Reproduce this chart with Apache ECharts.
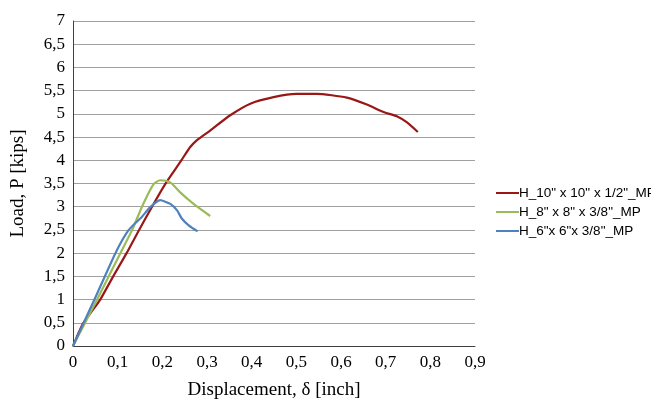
<!DOCTYPE html>
<html>
<head>
<meta charset="utf-8">
<script src="https://cdn.jsdelivr.net/npm/echarts@6/dist/echarts.min.js"></script>
<style>
  html, body { margin: 0; padding: 0; background: #fff; }
  #chart { width: 651px; height: 403px; }
</style>
</head>
<body>
<div id="chart"></div>
<script>
  // series names (legend)
  const seriesNames = ['H_10" x 10" x 1/2"_MP', 'H_8" x 8" x 3/8"_MP', 'H_6"x 6"x 3/8"_MP'];

  // H_10 x 10 x 1/2
  const disp10 = [0, 0.011, 0.022, 0.040, 0.061, 0.090, 0.120, 0.148, 0.177, 0.206, 0.225, 0.244, 0.262, 0.277, 0.307, 0.352, 0.397, 0.449, 0.50, 0.545, 0.613, 0.658, 0.695, 0.725, 0.747, 0.772];
  const load10 = [0, 0.25, 0.48, 0.72, 1.0, 1.5, 2.0, 2.5, 3.0, 3.48, 3.75, 4.02, 4.28, 4.43, 4.64, 4.97, 5.22, 5.36, 5.43, 5.43, 5.35, 5.20, 5.04, 4.95, 4.82, 4.61];

  // H_8 x 8 x 3/8
  const disp8 = [0, 0.054, 0.106, 0.132, 0.154, 0.180, 0.195, 0.208, 0.221, 0.240, 0.270, 0.307];
  const load8 = [0, 1.0, 2.0, 2.49, 2.99, 3.48, 3.57, 3.56, 3.50, 3.31, 3.06, 2.80];

  // H_6 x 6 x 3/8
  const disp6 = [0, 0.048, 0.095, 0.124, 0.154, 0.173, 0.195, 0.218, 0.233, 0.244, 0.259, 0.279];
  const load6 = [0, 1.0, 2.0, 2.49, 2.78, 2.99, 3.14, 3.06, 2.92, 2.74, 2.60, 2.47];

  const colors = ['#9a1717', '#9bbb59', '#4f81bd'];

  function pairs(xs, ys) {
    return xs.map((x, i) => [x, ys[i]]);
  }
  function comma(v) {
    return String(Math.round(v * 10) / 10).replace('.', ',');
  }

  const chart = echarts.init(document.getElementById('chart'));
  const serif = 'Liberation Serif';

  chart.setOption({
    animation: false,
    color: colors,
    grid: { left: 73, right: 176, top: 21, bottom: 57, outerBoundsMode: 'none', containLabel: false },
    legend: {
      orient: 'vertical',
      left: 491,
      top: 181,
      itemWidth: 23,
      itemHeight: 2,
      itemGap: 5,
      icon: 'rect',
      textStyle: { fontFamily: 'Liberation Sans', fontSize: 13.5, color: '#000', padding: [0, 0, 0, -5] },
      data: seriesNames
    },
    xAxis: {
      type: 'value',
      min: 0, max: 0.9, interval: 0.1,
      name: 'Displacement, δ [inch]',
      nameLocation: 'middle',
      nameGap: 35,
      nameTextStyle: { fontFamily: serif, fontSize: 19, color: '#000' },
      axisLine: { lineStyle: { color: '#404040', width: 1 } },
      axisTick: { show: false },
      splitLine: { show: false },
      axisLabel: { fontFamily: serif, fontSize: 17, color: '#000', margin: 8, formatter: comma }
    },
    yAxis: {
      type: 'value',
      min: 0, max: 7, interval: 0.5,
      name: 'Load, P [kips]',
      nameLocation: 'middle',
      nameGap: 45,
      nameTextStyle: { fontFamily: serif, fontSize: 19, color: '#000' },
      axisLine: { show: true, lineStyle: { color: '#404040', width: 1 } },
      axisTick: { show: false },
      splitLine: { lineStyle: { color: '#a0a0a0', width: 1 } },
      axisLabel: { fontFamily: serif, fontSize: 17, color: '#000', margin: 8, formatter: comma }
    },
    series: [
      { name: seriesNames[0], type: 'line', smooth: 0.2, showSymbol: false, lineStyle: { width: 2.2 }, data: pairs(disp10, load10) },
      { name: seriesNames[1], type: 'line', smooth: 0.2, showSymbol: false, lineStyle: { width: 2.2 }, data: pairs(disp8, load8) },
      { name: seriesNames[2], type: 'line', smooth: 0.2, showSymbol: false, lineStyle: { width: 2.2 }, data: pairs(disp6, load6) }
    ]
  });
</script>
</body>
</html>
